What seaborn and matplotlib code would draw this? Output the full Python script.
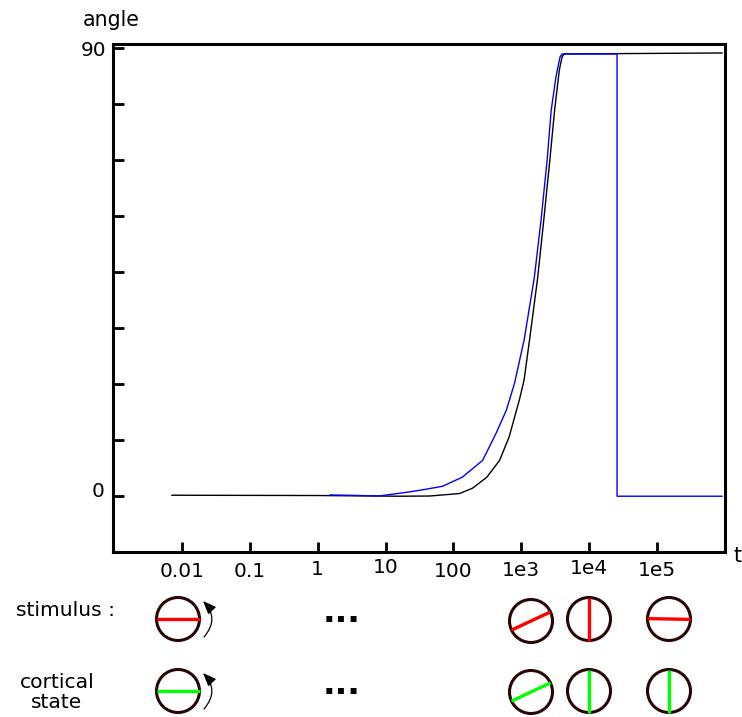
import numpy as np
import seaborn as sns
import matplotlib.pyplot as plt
from matplotlib.patches import Circle
from matplotlib.transforms import ScaledTranslation

sns.set_style("white")
plt.rcParams['font.family'] = ['DejaVu Sans']
plt.rcParams['text.color'] = 'black'

# curves (log10 t, angle in degrees)
black_logt = [-2.15, 0.0, 1.21, 1.65, 2.09, 2.28, 2.49, 2.68, 2.82, 2.97, 3.04, 3.12, 3.24, 3.33, 3.42, 3.49, 3.56, 3.6, 3.63, 5.96]
black_angle = [0.2, 0.14, 0.0, 0.04, 0.54, 1.6, 3.8, 7.2, 11.9, 19.3, 23.3, 31.3, 43.8, 55.4, 67.5, 77.5, 85.6, 88.2, 88.8, 89.0]
blue_logt = [0.18, 0.91, 1.35, 1.6, 1.84, 2.13, 2.43, 2.63, 2.78, 2.9, 3.04, 3.19, 3.29, 3.38, 3.44, 3.51, 3.57, 3.6, 4.41, 4.41, 5.96]
blue_angle = [0.26, 0.06, 0.86, 1.41, 2.0, 3.82, 7.2, 12.7, 17.3, 22.7, 31.3, 43.8, 55.4, 67.5, 77.5, 84.2, 88.2, 88.8, 88.8, 0.0, 0.0]

x_ticks = [0.01, 0.1, 1, 10, 100, 1e3, 1e4, 1e5]
x_labels = ['0.01', '0.1', '1', '10', '100', '1e3', '1e4', '1e5']
label_shift = [0, 0, 2, 4, 0, 1, 3, 1]
y_ticks = [0, 11.25, 22.5, 33.75, 45, 56.25, 67.5, 78.75, 90]
y_labels = ['0', '', '', '', '', '', '', '', '90']

# stimulus / cortical state dials: centre x, angle of the bar
dial_x = [178, 531, 589, 669]
stim_y = [619, 621, 619, 619]
stim_angle = [0, 25, 90, -1]
state_y = [691, 692, 691, 691]
state_angle = [0, 25, 90, 90]

W, H = 742, 717
fig = plt.figure(figsize=(W / 100, H / 100), dpi=100)
ax = fig.add_axes([113 / W, 1 - 552 / H, (725 - 113) / W, (552 - 44) / H])

sns.lineplot(x=10 ** np.array(black_logt), y=black_angle, color='black', lw=1,
             sort=False, estimator=None, ax=ax)
sns.lineplot(x=10 ** np.array(blue_logt), y=blue_angle, color='#0000ff', lw=1,
             sort=False, estimator=None, ax=ax)

ax.set_xscale('log')
ax.set_xlim(10 ** -3.015, 1e6)
ax.set_ylim(-11.2, 90.8)
ax.minorticks_off()
ax.set_xticks(x_ticks)
ax.set_xticklabels(x_labels)
ax.set_yticks(y_ticks)
ax.set_yticklabels(y_labels)
ax.tick_params(axis='x', direction='in', length=7.5, width=2, labelsize=14.5, pad=7.5, bottom=True,
               color='black', labelcolor='black')
ax.tick_params(axis='y', direction='in', length=8, width=2, labelsize=14.5, pad=5, left=True,
               color='black', labelcolor='black')
ax.tick_params(axis='x', which='minor', bottom=False)
for sp in ax.spines.values():
    sp.set_linewidth(2.2)
    sp.set_color('black')
for lab, dy in zip(ax.get_xticklabels(), label_shift):
    lab.set_transform(lab.get_transform() + ScaledTranslation(0, dy / 100, fig.dpi_scale_trans))
for lab in ax.get_yticklabels():
    sx, sy = {'0': (-2, 7), '90': (0, -1)}.get(lab.get_text(), (0, 0))
    lab.set_transform(lab.get_transform() + ScaledTranslation(sx / 100, sy / 100, fig.dpi_scale_trans))

# overlay in pixel units for the schematic under the axis
ov = fig.add_axes([0, 0, 1, 1], facecolor='none')
ov.set_xlim(0, W)
ov.set_ylim(H, 0)
ov.axis('off')

R = 21.5
for xs, ys, angles, col in [(dial_x, stim_y, stim_angle, '#ff0000'),
                            (dial_x, state_y, state_angle, '#00ff00')]:
    for cx, cy, a in zip(xs, ys, angles):
        ov.add_patch(Circle((cx, cy), R, fc='white', ec='#2a0505', lw=2.2))
        dx, dy = R * np.cos(np.radians(a)), R * np.sin(np.radians(a))
        ov.plot([cx - dx, cx + dx], [cy + dy, cy - dy], color=col, lw=2.4, solid_capstyle='butt')

# little rotation arrows
for cy in [637, 709]:
    ov.annotate('', xy=(203, cy - 36), xytext=(204, cy),
                arrowprops=dict(arrowstyle='-|>,head_width=0.32,head_length=0.8', color='black',
                                lw=0.9, shrinkA=0, shrinkB=0, connectionstyle='arc3,rad=0.45'))

for cy in [622, 694]:
    ov.text(342, cy, '...', fontsize=24, fontweight='bold', ha='center', va='baseline')

ov.text(111, 20, 'angle', fontsize=14.8, ha='center', va='center')
ov.text(737, 556, 't', fontsize=14.8, ha='center', va='center')
ov.text(65, 611, 'stimulus :', fontsize=14.6, ha='center', va='center')
ov.text(57, 682, 'cortical', fontsize=14.6, ha='center', va='center')
ov.text(57, 703, 'state', fontsize=14.6, ha='center', va='center')

fig.savefig('out.png', dpi=100)
